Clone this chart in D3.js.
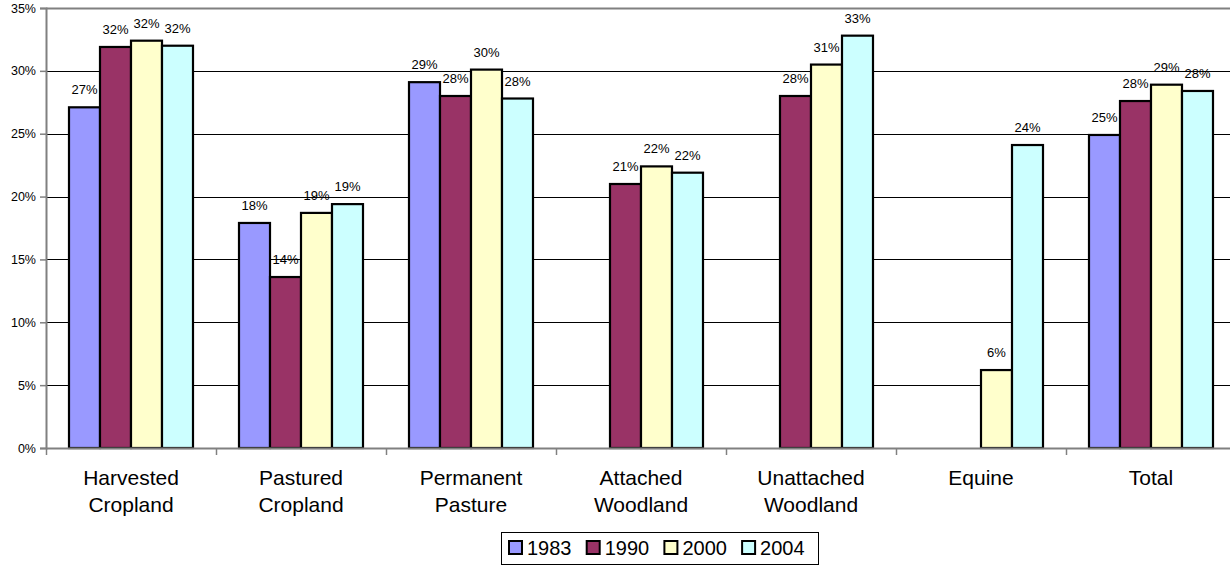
<!DOCTYPE html>
<html>
<head>
<meta charset="utf-8">
<script src="https://cdn.jsdelivr.net/npm/d3@7"></script>
<style>
  html, body { margin: 0; padding: 0; background: #fff; }
  svg { display: block; font-family: Arial, "Liberation Sans", sans-serif; }
</style>
</head>
<body>
<svg id="chart" width="1230" height="565"></svg>
<script>
// Land-use categories (two-line labels) and survey years
const categories = [
  ["Harvested", "Cropland"],
  ["Pastured", "Cropland"],
  ["Permanent", "Pasture"],
  ["Attached", "Woodland"],
  ["Unattached", "Woodland"],
  ["Equine"],
  ["Total"]
];
const years = ["1983", "1990", "2000", "2004"];

// Share (%) per category for each year; null = not surveyed
const values1983 = [27.1, 17.9, 29.1, null, null, null, 24.9];
const values1990 = [31.9, 13.6, 28.0, 21.0, 28.0, null, 27.6];
const values2000 = [32.4, 18.7, 30.1, 22.4, 30.5, 6.2, 28.9];
const values2004 = [32.0, 19.4, 27.8, 21.9, 32.8, 24.1, 28.4];

const yTicks = [0, 5, 10, 15, 20, 25, 30, 35];
const colors = ["#9999FF", "#993366", "#FFFFCC", "#CCFFFF"];

const seriesValues = [values1983, values1990, values2000, values2004];
const series = years.map((y, i) => ({ year: y, color: colors[i], values: seriesValues[i] }));

const svg = d3.select("#chart");
const margin = { left: 46, top: 8, bottom: 448 };
const groupWidth = 170;
const plotRight = margin.left + groupWidth * categories.length;

const x0 = d3.scaleBand()
  .domain(d3.range(categories.length))
  .range([margin.left, plotRight])
  .paddingInner(0).paddingOuter(0);

const x1 = d3.scaleBand()
  .domain(years)
  .range([23, groupWidth - 23])
  .padding(0);

const y = d3.scaleLinear().domain([0, 35]).range([margin.bottom, margin.top]);

// Horizontal gridlines
svg.append("g")
  .selectAll("line")
  .data(yTicks.filter(t => t > 0 && t < 35))
  .join("line")
  .attr("x1", margin.left).attr("x2", plotRight)
  .attr("y1", d => Math.round(y(d)) + 0.5).attr("y2", d => Math.round(y(d)) + 0.5)
  .attr("stroke", "#000").attr("stroke-width", 1);

// Plot-area top border
svg.append("line")
  .attr("x1", margin.left).attr("x2", plotRight)
  .attr("y1", Math.round(y(35)) + 0.5).attr("y2", Math.round(y(35)) + 0.5)
  .attr("stroke", "#808080").attr("stroke-width", 2);

// Y axis
const yAxis = d3.axisLeft(y)
  .tickValues(yTicks)
  .tickFormat(d => d + "%")
  .tickSize(6)
  .tickPadding(4);
const gy = svg.append("g")
  .attr("transform", `translate(${margin.left},0)`)
  .call(yAxis);
gy.select(".domain").attr("stroke", "#808080").attr("stroke-width", 2);
gy.selectAll(".tick line").attr("stroke", "#808080").attr("stroke-width", 1.5);
gy.selectAll(".tick text")
  .attr("font-size", 12.5).attr("fill", "#000")
  .attr("font-family", "Arial, 'Liberation Sans', sans-serif");

// Bars
const groups = svg.append("g")
  .selectAll("g")
  .data(categories.map((c, i) => i))
  .join("g")
  .attr("transform", i => `translate(${x0(i)},0)`);

groups.selectAll("rect")
  .data(i => series.filter(s => s.values[i] != null).map(s => ({ year: s.year, color: s.color, v: s.values[i] })))
  .join("rect")
  .attr("x", d => x1(d.year))
  .attr("width", x1.bandwidth())
  .attr("y", d => y(d.v))
  .attr("height", d => y(0) - y(d.v))
  .attr("fill", d => d.color)
  .attr("stroke", "#000")
  .attr("stroke-width", 2.2);

// Value labels
groups.selectAll("text")
  .data(i => series.filter(s => s.values[i] != null).map(s => ({ year: s.year, v: s.values[i] })))
  .join("text")
  .attr("x", d => x1(d.year) + x1.bandwidth() / 2)
  .attr("y", d => y(d.v) - 13)
  .attr("text-anchor", "middle")
  .attr("font-size", 13)
  .attr("fill", "#000")
  .text(d => Math.round(d.v) + "%");

// X axis
const xAxis = d3.axisBottom(x0).tickSize(0).tickFormat("");
const gx = svg.append("g")
  .attr("transform", `translate(0,${margin.bottom})`)
  .call(xAxis);
gx.select(".domain").attr("stroke", "#808080").attr("stroke-width", 2);

// Tick marks at group boundaries
svg.append("g")
  .selectAll("line")
  .data(d3.range(categories.length + 1))
  .join("line")
  .attr("x1", i => margin.left + i * groupWidth + 0.5)
  .attr("x2", i => margin.left + i * groupWidth + 0.5)
  .attr("y1", margin.bottom).attr("y2", margin.bottom + 7)
  .attr("stroke", "#808080").attr("stroke-width", 1.5);

// Category labels
const catLabels = svg.append("g")
  .selectAll("text")
  .data(categories.map((c, i) => ({ lines: c, i })))
  .join("text")
  .attr("text-anchor", "middle")
  .attr("font-size", 21)
  .attr("fill", "#000")
  .attr("transform", d => `translate(${x0(d.i) + x0.bandwidth() / 2},485)`);
catLabels.selectAll("tspan")
  .data(d => d.lines)
  .join("tspan")
  .attr("x", 0)
  .attr("y", (d, j) => j * 26.5)
  .text(d => d);

// Legend
const legend = svg.append("g").attr("transform", "translate(501,532)");
legend.append("rect")
  .attr("x", 0.5).attr("y", 0.5)
  .attr("width", 317).attr("height", 32)
  .attr("fill", "#fff").attr("stroke", "#000").attr("stroke-width", 1);
const items = legend.selectAll("g.item")
  .data(series)
  .join("g")
  .attr("class", "item")
  .attr("transform", (d, i) => `translate(${8 + i * 77.7},0)`);
items.append("rect")
  .attr("x", 0).attr("y", 9)
  .attr("width", 13).attr("height", 13)
  .attr("fill", d => d.color)
  .attr("stroke", "#000").attr("stroke-width", 2);
items.append("text")
  .attr("x", 18).attr("y", 23)
  .attr("font-size", 20)
  .attr("fill", "#000")
  .text(d => d.year);
</script>
</body>
</html>
